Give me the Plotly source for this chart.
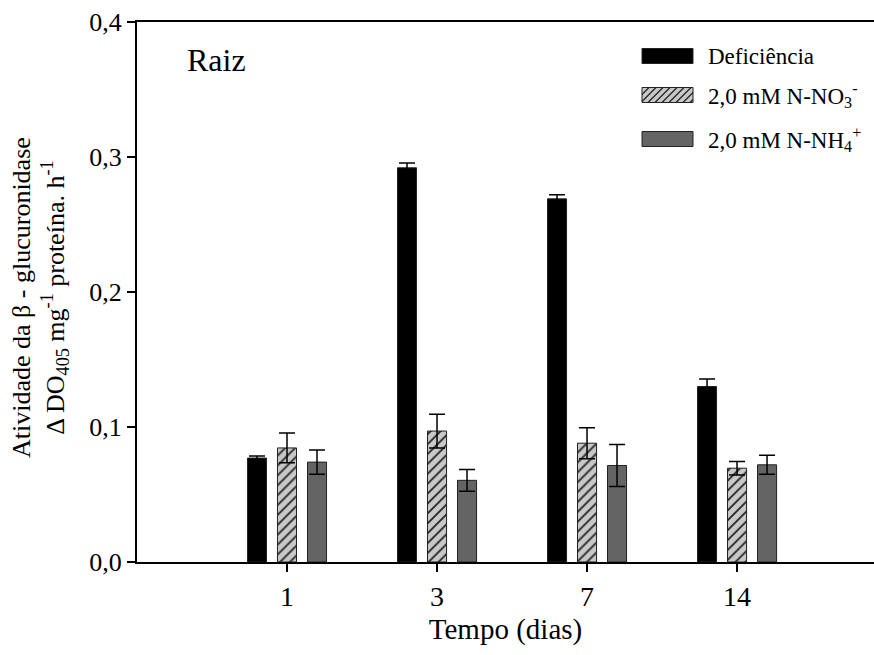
import plotly.graph_objects as go

# ---- data ----
days = ["1", "3", "7", "14"]
deficiencia = [0.077, 0.292, 0.269, 0.130]
deficiencia_err = [0.0015, 0.0035, 0.003, 0.0055]
no3 = [0.0845, 0.097, 0.088, 0.0695]
no3_err = [0.011, 0.0125, 0.0115, 0.005]
nh4 = [0.074, 0.0605, 0.0715, 0.072]
nh4_err = [0.009, 0.008, 0.0155, 0.007]
y_ticks = [0.0, 0.1, 0.2, 0.3, 0.4]
y_ticklabels = ["0,0", "0,1", "0,2", "0,3", "0,4"]
series_names = ["Deficiência",
                "2,0 mM N-NO<sub>3</sub><sup>-</sup>",
                "2,0 mM N-NH<sub>4</sub><sup>+</sup>"]

xpos = list(range(len(days)))
bw = 0.127
FONT = "Liberation Serif, Times New Roman, serif"
HATCH_BG = "#c8c8c8"
GRAY = "#646464"

fig = go.Figure()

def err(vals):
    return dict(type="data", array=vals, visible=True, color="black",
                thickness=1.5, width=8)

fig.add_trace(go.Bar(
    x=xpos, y=deficiencia, name=series_names[0], width=bw, offset=-0.2 - bw / 2,
    marker=dict(color="black", line=dict(color="#222", width=1)),
    error_y=err(deficiencia_err)))
fig.add_trace(go.Bar(
    x=xpos, y=no3, name=series_names[1], width=bw, offset=-bw / 2,
    marker=dict(color=HATCH_BG, line=dict(color="#222", width=1),
                pattern=dict(shape="/", fgcolor="#222", bgcolor=HATCH_BG,
                             size=7, solidity=0.25, fillmode="replace")),
    error_y=err(no3_err)))
fig.add_trace(go.Bar(
    x=xpos, y=nh4, name=series_names[2], width=bw, offset=0.2 - bw / 2,
    marker=dict(color=GRAY, line=dict(color="#222", width=1)),
    error_y=err(nh4_err)))

# ---- manual legend (wide swatches as in the reference) ----
L, T, R, B = 137, 22, 874, 562
def px(X):
    return (X - L) / (R - L)
def py(Y):
    return (B - Y) / (B - T)

shapes = []
annotations = []
sw_x0, sw_x1, sw_h = 642, 693, 15
centers = [56, 95, 139]
fills = ["black", HATCH_BG, GRAY]
for i, (cy, fc) in enumerate(zip(centers, fills)):
    yt, yb = cy - sw_h / 2, cy + sw_h / 2
    shapes.append(dict(type="rect", xref="paper", yref="paper",
                       x0=px(sw_x0), x1=px(sw_x1), y0=py(yb), y1=py(yt),
                       fillcolor=fc, line=dict(color="#222", width=1)))
    if i == 1:
        step = 7
        s = sw_x0 - sw_h
        while s < sw_x1:
            tmin = max(0, sw_x0 - s)
            tmax = min(sw_h, sw_x1 - s)
            if tmin < tmax:
                shapes.append(dict(type="line", xref="paper", yref="paper",
                                   x0=px(s + tmin), y0=py(yb - tmin),
                                   x1=px(s + tmax), y1=py(yb - tmax),
                                   line=dict(color="#222", width=1.2)))
            s += step
    annotations.append(dict(text=series_names[i], xref="paper", yref="paper",
                            x=px(706), y=py(cy), xanchor="left", yanchor="middle",
                            showarrow=False, font=dict(family=FONT, size=23)))

annotations += [
    dict(text="Raiz", xref="paper", yref="paper",
         x=px(185), y=py(60), xanchor="left", yanchor="middle", showarrow=False,
         font=dict(family=FONT, size=32)),
    dict(text="Atividade da β - glucuronidase<br>Δ DO<sub>405</sub> mg<sup>-1</sup> proteína. h<sup>-1</sup>",
         xref="paper", yref="paper", x=px(40), y=py(297),
         xanchor="center", yanchor="middle", textangle=-90, showarrow=False,
         font=dict(family=FONT, size=26)),
]

fig.update_layout(
    width=874, height=655,
    margin=dict(l=L, r=0, t=T, b=655 - B),
    paper_bgcolor="white", plot_bgcolor="white",
    barmode="overlay",
    font=dict(family=FONT, color="black", size=26),
    showlegend=False,
    xaxis=dict(range=[-1, 3.913], tickvals=xpos, ticktext=days,
               showline=True, linecolor="black", linewidth=2, mirror=True,
               ticks="outside", ticklen=8, tickwidth=1.5, tickcolor="black",
               showgrid=False, zeroline=False,
               tickfont=dict(family=FONT, size=28),
               title=dict(text="Tempo (dias)", font=dict(family=FONT, size=29),
                          standoff=8)),
    yaxis=dict(range=[0, 0.4], tickvals=y_ticks, ticktext=y_ticklabels,
               showline=True, linecolor="black", linewidth=2, mirror=False,
               ticks="outside", ticklen=8, tickwidth=1.5, tickcolor="black",
               showgrid=False, zeroline=False,
               tickfont=dict(family=FONT, size=26)),
    shapes=shapes,
    annotations=annotations,
)

fig.write_html("out.html")
